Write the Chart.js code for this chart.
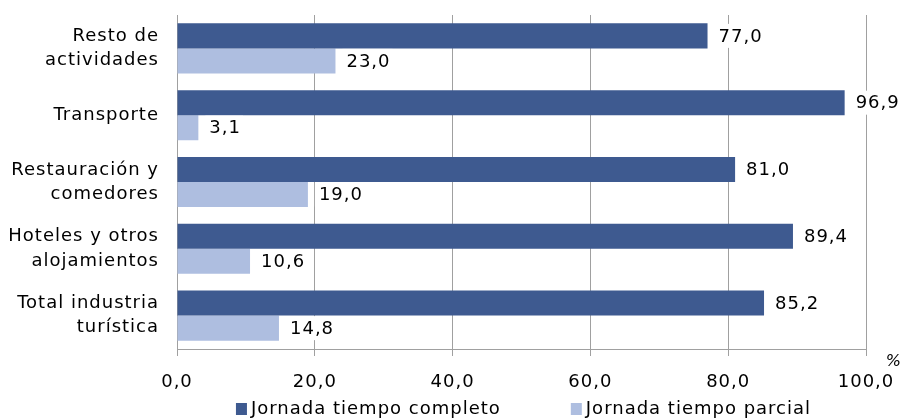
<!DOCTYPE html>
<html>
<head>
<meta charset="utf-8">
<script src="https://cdn.jsdelivr.net/npm/chart.js@4.4.1/dist/chart.umd.min.js"></script>
<style>
  html, body { margin: 0; padding: 0; background: #fff; }
  #wrap { width: 905px; height: 419px; }
</style>
</head>
<body>
<div id="wrap"><canvas id="grafico"></canvas></div>
<script>
const categorias = [
  ["Resto de", "actividades"],
  "Transporte",
  ["Restauración y", "comedores"],
  ["Hoteles y otros", "alojamientos"],
  ["Total industria", "turística"]
];
const completo = [77.0, 96.9, 81.0, 89.4, 85.2];
const parcial = [23.0, 3.1, 19.0, 10.6, 14.8];
const ticksX = [0, 20, 40, 60, 80, 100];

const fonte = "'DejaVu Sans', Verdana, sans-serif";
const espaco = "1px";
const fmt = v => v.toFixed(1).replace(".", ",");

// espaçamento de letras tipo Verdana
const espacamento = {
  id: "espacamento",
  beforeUpdate(chart) { chart.ctx.letterSpacing = espaco; },
  beforeDraw(chart) { chart.ctx.letterSpacing = espaco; }
};

// rótulos de valor com fundo branco, símbolo % e legenda
const rotulos = {
  id: "rotulos",
  afterDatasetsDraw(chart) {
    const ctx = chart.ctx;
    ctx.save();
    ctx.letterSpacing = espaco;
    ctx.font = "18px " + fonte;
    ctx.textBaseline = "middle";
    chart.data.datasets.forEach((ds, i) => {
      chart.getDatasetMeta(i).data.forEach((el, j) => {
        const txt = fmt(ds.data[j]);
        const w = ctx.measureText(txt).width;
        const x = el.x + 11;
        ctx.fillStyle = "#fff";
        ctx.fillRect(x - 4, el.y - 12, w + 6, 24);
        ctx.fillStyle = "#000";
        ctx.fillText(txt, x, el.y + 1);
      });
    });

    const a = chart.chartArea;
    ctx.font = "italic 16px " + fonte;
    ctx.textAlign = "right";
    ctx.fillText("%", a.right + 36, a.bottom + 13);

    // legenda
    ctx.font = "18px " + fonte;
    ctx.textAlign = "left";
    const itens = chart.data.datasets.map(ds => ({ txt: ds.label, cor: ds.backgroundColor,
      w: ctx.measureText(ds.label).width }));
    const caixa = 11, folga = 4, entre = 70;
    const total = itens.reduce((s, it) => s + caixa + folga + it.w, 0) + entre * (itens.length - 1);
    let x = (a.left + a.right) / 2 - total / 2 + 2;
    const y = 409;
    itens.forEach(it => {
      ctx.fillStyle = it.cor;
      ctx.fillRect(x, y - 6, caixa, 12);
      ctx.fillStyle = "#000";
      ctx.fillText(it.txt, x + caixa + folga, y);
      x += caixa + folga + it.w + entre;
    });
    ctx.restore();
  }
};

new Chart(document.getElementById("grafico"), {
  type: "bar",
  data: {
    labels: categorias,
    datasets: [
      { label: "Jornada tiempo completo", data: completo, backgroundColor: "#3e5a90",
        categoryPercentage: 0.75, barPercentage: 1 },
      { label: "Jornada tiempo parcial", data: parcial, backgroundColor: "#aebee0",
        categoryPercentage: 0.75, barPercentage: 1 }
    ]
  },
  options: {
    indexAxis: "y",
    responsive: true,
    maintainAspectRatio: false,
    animation: false,
    layout: { padding: { top: 15, right: 39, left: 0, bottom: 0 } },
    scales: {
      x: {
        min: 0, max: 100,
        afterBuildTicks: s => { s.ticks = ticksX.map(v => ({ value: v })); },
        afterFit: s => { s.height = 70; s.paddingLeft = 0; s.paddingRight = 0; },
        ticks: { color: "#000", font: { family: fonte, size: 18 }, padding: 16,
          callback: v => fmt(v) },
        grid: { color: "#a0a0a0", lineWidth: 1, tickLength: 7 },
        border: { color: "#a0a0a0" }
      },
      y: {
        afterFit: s => { s.width = 177; s.paddingTop = 0; s.paddingBottom = 0; },
        ticks: { color: "#000", font: { family: fonte, size: 18, lineHeight: 1.35 }, padding: 10 },
        grid: { display: false },
        border: { color: "#a0a0a0" }
      }
    },
    plugins: {
      legend: { display: false },
      tooltip: { enabled: false }
    }
  },
  plugins: [espacamento, rotulos]
});
</script>
</body>
</html>
